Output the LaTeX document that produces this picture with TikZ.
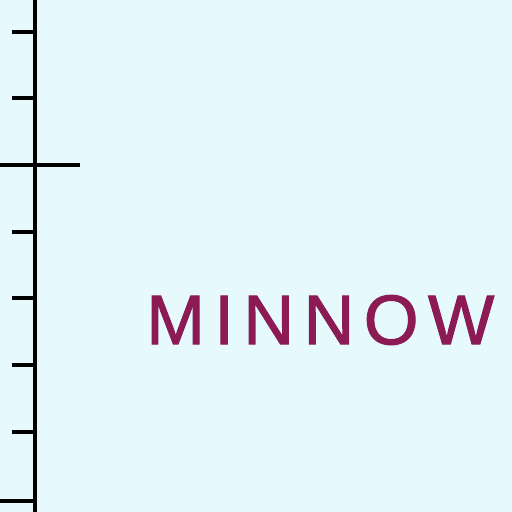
\documentclass[tikz,border=0pt]{standalone}
\usepackage{fontspec}
\setmainfont{Liberation Sans}
\usetikzlibrary{calc}
\definecolor{paleCyan}{RGB}{230,250,253}
\definecolor{fishWine}{RGB}{139,26,85}
\tikzset{
  rule/.style={line width=2.2pt,black},
  ticklab/.style={font=\fontsize{40}{40}\selectfont\addfontfeature{LetterSpace=13.5,FakeBold=1.5},text=fishWine,inner sep=0pt}
}
\begin{document}
\begin{tikzpicture}[x=0.02cm,y=-0.02cm]
  \fill[paleCyan] (0,0) rectangle (512,512);
  \useasboundingbox (0,0) rectangle (512,512);
  % the scale
  \coordinate (top) at (35,0);
  \coordinate (bot) at (35,512);
  \draw[rule] (top) -- (bot);
  \foreach \y in {32,98,232,298,365,432}
    \draw[rule] (12,\y) -- (35,\y);
  \draw[rule] (0,165) -- (80,165);
  \draw[rule] (0,501) -- (35,501);
  % label
  \node[ticklab,anchor=west] (minnow) at (146,320) {MINNOW};
\end{tikzpicture}
\end{document}
